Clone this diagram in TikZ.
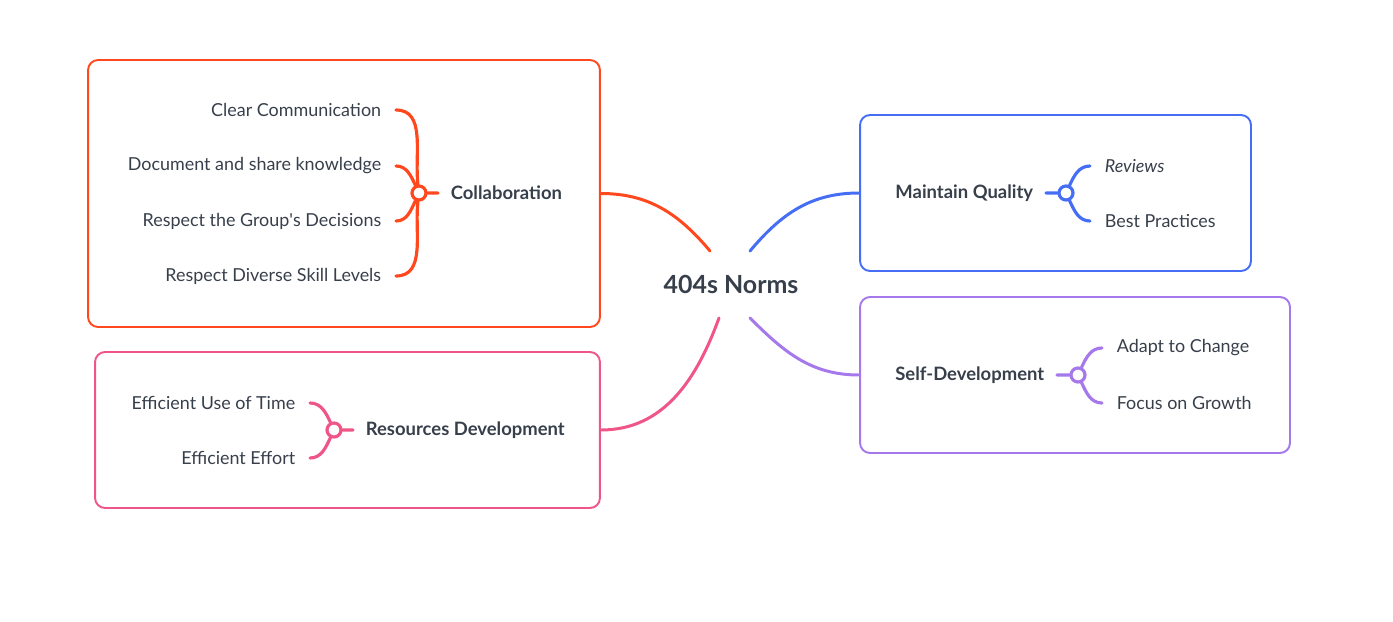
\documentclass[tikz,border=0pt]{standalone}
\usepackage{fontspec}
\setmainfont{Lato}
\definecolor{ink}{RGB}{55,63,75}
\definecolor{colred}{RGB}{255,72,30}
\definecolor{respink}{RGB}{240,85,135}
\definecolor{qualblue}{RGB}{70,110,245}
\definecolor{selfpurple}{RGB}{165,120,235}

\begin{document}
\begin{tikzpicture}[x = 0.02cm, y = -0.02cm,
    hub/.style = {font = \fontsize{14.2}{17}\selectfont\bfseries, text = ink, inner sep = 0pt},
    frame/.style = {draw = #1, line width = 1.1pt, rounded corners = 0.2cm, inner sep = 0pt},
    topic/.style = {font = \fontsize{10.5}{13}\selectfont\bfseries, text = ink, inner xsep = 0.25cm, inner ysep = 0pt},
    leaf/.style = {font = \fontsize{10.2}{12}\selectfont, text = ink, inner xsep = 0.29cm, inner ysep = 0pt},
    knot/.style = {circle, draw = #1, fill = white, line width = 1.8pt, minimum size = 0.28cm, inner sep = 0pt},
    branch/.style = {draw = #1, line width = 1.8pt, line cap = round},
    trunk/.style = {draw = #1, line width = 1.7pt, line cap = round}]
  \useasboundingbox (0,0) rectangle (1393,622);

  % central topic
  \node[hub] (norms) at (731,284) {404s Norms};

  % frames
  \node[frame = colred, minimum width = 10.24cm, minimum height = 5.34cm] (colbox) at (344,193.5) {};
  \node[frame = respink, minimum width = 10.1cm, minimum height = 3.12cm] (resbox) at (347.5,430) {};
  \node[frame = qualblue, minimum width = 7.82cm, minimum height = 3.12cm] (qualbox) at (1055.5,193) {};
  \node[frame = selfpurple, minimum width = 8.6cm, minimum height = 3.12cm] (selfbox) at (1075,375) {};

  % collaboration
  \node[knot = colred] (colknot) at (419,193) {};
  \node[topic, anchor = west] (collab) at (438,193) {Collaboration};
  \node[leaf, anchor = east] (clear) at (396,110) {Clear Communication};
  \node[leaf, anchor = east] (share) at (396,166) {Document and share knowledge};
  \node[leaf, anchor = east] (group) at (396,221) {Respect the Group\textquotesingle s Decisions};
  \node[leaf, anchor = east] (skill) at (396,276) {Respect Diverse Skill Levels};

  % resources
  \node[knot = respink] (resknot) at (334,430) {};
  \node[topic, anchor = west] (resources) at (353,430) {Resources Development};
  \node[leaf, anchor = east] (usetime) at (310,403) {Efficient Use of Time};
  \node[leaf, anchor = east] (effort) at (310,458) {Efficient Effort};

  % quality
  \node[knot = qualblue] (qualknot) at (1066,193) {};
  \node[topic, anchor = east] (quality) at (1046,193) {Maintain Quality};
  \node[leaf, anchor = west] (reviews) at (1090,166) {\itshape Reviews};
  \node[leaf, anchor = west] (practices) at (1090,221) {Best Practices};

  % self development
  \node[knot = selfpurple] (selfknot) at (1078,375) {};
  \node[topic, anchor = east] (selfdev) at (1057,375) {Self-Development};
  \node[leaf, anchor = west] (adapt) at (1102,348) {Adapt to Change};
  \node[leaf, anchor = west] (growth) at (1102,403) {Focus on Growth};

  % trunks
  \path[trunk = colred] ([shift = {(-21,-33)}]norms.center) to[out = 130, in = 0] (colbox.east);
  \path[trunk = qualblue] ([shift = {(19,-33)}]norms.center) to[out = 50, in = 180] (qualbox.west);
  \path[trunk = respink] ([shift = {(-12,34)}]norms.center) to[out = 250, in = 0] (resbox.east);
  \path[trunk = selfpurple] ([shift = {(19,34)}]norms.center) to[out = -45, in = 180] (selfbox.west);

  % branches
  \path[branch = colred] (colknot) -- (collab.west)
    (colknot) to[out = 97, in = 0] (clear.east)
    (colknot) to[out = 115, in = 0] (share.east)
    (colknot) to[out = 245, in = 0] (group.east)
    (colknot) to[out = 263, in = 0] (skill.east);
  \path[branch = respink] (resknot) -- (resources.west)
    (resknot) to[out = 115, in = 0] (usetime.east)
    (resknot) to[out = 245, in = 0] (effort.east);
  \path[branch = qualblue] (qualknot) -- (quality.east)
    (qualknot) to[out = 65, in = 180] (reviews.west)
    (qualknot) to[out = -65, in = 180] (practices.west);
  \path[branch = selfpurple] (selfknot) -- (selfdev.east)
    (selfknot) to[out = 65, in = 180] (adapt.west)
    (selfknot) to[out = -65, in = 180] (growth.west);
\end{tikzpicture}
\end{document}
